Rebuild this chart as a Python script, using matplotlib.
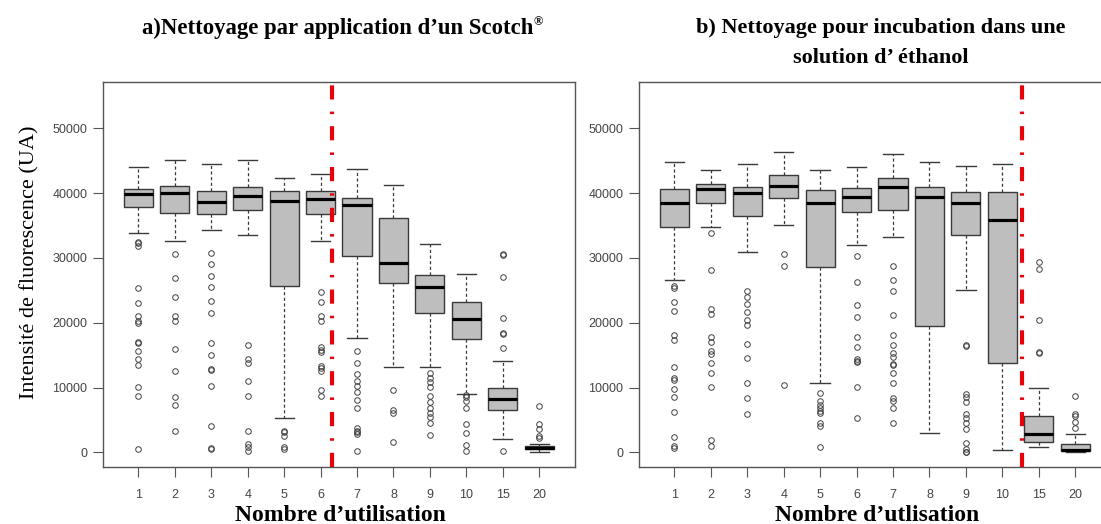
import numpy as np
import matplotlib
matplotlib.use("Agg")
import matplotlib.pyplot as plt

# labels of the x axis (number of uses)
labels_a = ["1", "2", "3", "4", "5", "6", "7", "8", "9", "10", "15", "20"]
labels_b = ["1", "2", "3", "4", "5", "6", "7", "8", "9", "10", "15", "20"]

# a) Scotch cleaning - box statistics
whishi_a = [44080, 45110, 44440, 45110, 42280, 42900, 43670, 41250, 32100, 27470, 14090, 1230]
q3_a     = [40640, 41050, 40330, 40950, 40330, 40330, 39300, 36210, 27370, 23150, 9880, 1030]
med_a    = [39870, 39970, 38580, 39560, 38840, 39040, 38120, 29170, 25570, 20580, 8230, 720]
q1_a     = [37860, 36880, 36730, 37350, 25670, 36730, 30300, 26180, 21550, 17540, 6530, 460]
whislo_a = [33900, 32610, 34310, 33590, 5250, 32610, 17700, 13220, 13220, 9000, 2010, 0]
fliers_a = [
    [32510, 32250, 31890, 25310, 23100, 21040, 20320, 20010, 16980, 16820, 15690, 14350, 13480, 10130, 8690, 510],
    [30660, 26950, 24020, 21040, 20270, 16000, 12600, 8490, 7250, 3340],
    [30810, 29060, 27160, 25460, 23300, 21550, 16870, 14970, 12810, 12710, 10240, 4010, 620, 510],
    [16510, 14350, 13730, 11010, 8740, 3340, 1230, 770, 260],
    [3340, 3090, 2570, 770, 510],
    [24690, 23150, 21040, 20270, 16200, 15790, 15530, 13320, 12960, 12550, 9620, 8740],
    [15690, 13730, 12040, 11060, 10240, 9260, 8080, 6890, 3700, 3340, 3090, 2830, 260],
    [9620, 6530, 6020, 1650],
    [12190, 11520, 10910, 10130, 8690, 7820, 6790, 6120, 5400, 4480, 2670],
    [8850, 8490, 7970, 6790, 4370, 2930, 1130, 260],
    [30610, 30450, 27010, 20780, 18470, 18260, 16150, 260],
    [7200, 4320, 3550, 2520, 2260],
]

# b) ethanol cleaning
whishi_b = [44860, 43520, 44550, 46350, 43620, 43980, 46040, 44860, 44190, 44440, 9980, 2780]
q3_b     = [40690, 41460, 40900, 42850, 40430, 40790, 42280, 40900, 40180, 40120, 5610, 1230]
med_b    = [38530, 40640, 40070, 41150, 38530, 39350, 40900, 39350, 38530, 35850, 2780, 360]
q1_b     = [34830, 38530, 36520, 39300, 28550, 37040, 37400, 19550, 33540, 13840, 1650, 150]
whislo_b = [26590, 34830, 30860, 35030, 10650, 32000, 33180, 3030, 25050, 360, 770, 50]
fliers_b = [
    [25720, 25310, 23200, 21860, 18060, 17340, 13170, 11420, 11160, 9720, 8590, 6170, 2420, 980, 620],
    [33800, 28140, 22170, 21400, 17850, 17030, 15690, 15120, 13840, 12290, 10030, 1900, 980],
    [24850, 24020, 22840, 21600, 20470, 19600, 16770, 14510, 10750, 8440, 5860],
    [30610, 28760, 10440],
    [9210, 7970, 7300, 6790, 6430, 6120, 4580, 4060, 870],
    [30300, 26230, 22740, 20830, 17750, 16200, 14350, 14150, 13890, 10130, 5250],
    [28760, 26590, 24900, 21190, 18110, 16560, 15380, 14760, 13580, 13480, 12290, 10750, 8440, 7970, 6890, 4580],
    [],
    [16510, 16410, 8950, 8490, 7720, 5860, 5250, 4480, 3550, 1490, 460, 100, 0],
    [],
    [29420, 28290, 20420, 15430, 15280],
    [8690, 5860, 5610, 4730, 3700],
]

cut_a = 6.32   # red separation line positions
cut_b = 10.53

fig = plt.figure(figsize=(11.01, 5.24), dpi=100)
serif = ["Liberation Serif", "DejaVu Serif"]
sans = ["Liberation Sans", "DejaVu Sans"]
frame_col = "#555555"
box_col = "#3a3a3a"


def draw_panel(ax, whislo, q1, med, q3, whishi, fliers, labels, cut):
    stats = []
    for i in range(len(labels)):
        stats.append(dict(whislo=whislo[i], q1=q1[i], med=med[i], q3=q3[i],
                          whishi=whishi[i], fliers=fliers[i], label=labels[i]))
    pos = np.arange(1, len(labels) + 1)
    ax.bxp(stats, positions=pos, widths=0.8, capwidths=0.53, patch_artist=True,
           boxprops=dict(facecolor="#bebebe", edgecolor=box_col, lw=1.0),
           medianprops=dict(color="black", lw=2.3, solid_capstyle="butt"),
           whiskerprops=dict(color=box_col, lw=0.9, linestyle=(0, (2.5, 2))),
           capprops=dict(color=box_col, lw=1.0),
           flierprops=dict(marker="o", mfc="none", mec="#404040", ms=4, mew=0.7))
    ax.axvline(cut, color="#e8000b", lw=3, dashes=(3.4, 2.9, 0.6, 2.9),
               dash_capstyle="butt", zorder=5)
    ax.set_xlim(0.02, len(labels) + 0.98)
    ax.set_ylim(-2200, 57200)
    ax.set_yticks([0, 10000, 20000, 30000, 40000, 50000])
    ax.set_yticklabels(["0", "10000", "20000", "30000", "40000", "50000"],
                       family=sans, fontsize=9, color="#444444")
    ax.set_xticks(pos)
    ax.set_xticklabels(labels, family=sans, fontsize=9, color="#444444")
    ax.tick_params(axis="y", direction="out", length=7, width=0.8, color=frame_col, pad=4)
    ax.tick_params(axis="x", direction="out", length=7, width=0.8, color=frame_col, pad=9)
    for s in ax.spines.values():
        s.set_color(frame_col)
        s.set_linewidth(1.0)


ax1 = fig.add_axes([0.0933, 0.1094, 0.4289, 0.7347])
draw_panel(ax1, whislo_a, q1_a, med_a, q3_a, whishi_a, fliers_a, labels_a, cut_a)
ax1.set_ylabel("Intensité de fluorescence (UA)", family=serif, fontsize=16)
ax1.yaxis.set_label_coords(-0.133, 0.53)

ax2 = fig.add_axes([0.5801, 0.1094, 0.4289, 0.7347])
draw_panel(ax2, whislo_b, q1_b, med_b, q3_b, whishi_b, fliers_b, labels_b, cut_b)

fig.text(0.4841, 0.946, "a)Nettoyage par application d\u2019un Scotch",
         ha="right", va="center", family=serif, weight="bold", fontsize=16.4)
fig.text(0.4850, 0.958, "\u00ae", ha="left", va="center", family=serif,
         weight="bold", fontsize=9)
fig.text(0.800, 0.946, "b) Nettoyage pour incubation dans une",
         ha="center", va="center", family=serif, weight="bold", fontsize=16)
fig.text(0.800, 0.889, "solution d\u2019 éthanol",
         ha="center", va="center", family=serif, weight="bold", fontsize=16)

fig.text(0.309, 0.017, "Nombre d\u2019utilisation", ha="center", va="center",
         family=serif, weight="bold", fontsize=17)
fig.text(0.797, 0.017, "Nombre d\u2019utlisation", ha="center", va="center",
         family=serif, weight="bold", fontsize=17)

fig.savefig("out.png", dpi=100)
